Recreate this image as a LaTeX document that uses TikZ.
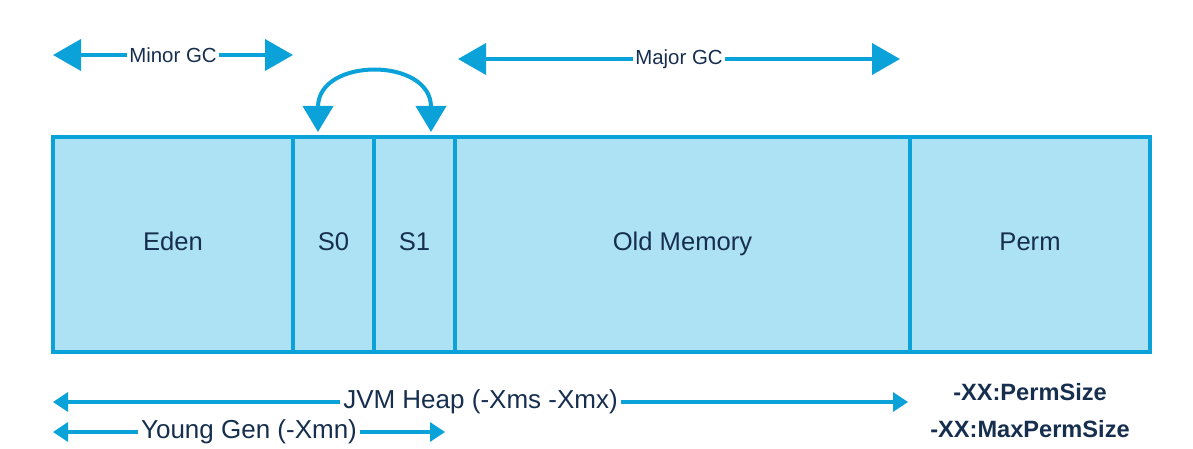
\documentclass[tikz,border=0pt]{standalone}
\usepackage{fontspec}
\setmainfont{Liberation Sans}
\usetikzlibrary{arrows.meta,positioning}
\definecolor{gcblue}{HTML}{0AA2D8}
\definecolor{gcfill}{HTML}{ACE2F3}
\definecolor{gcnavy}{HTML}{172F4E}
\tikzset{
  part/.style={draw=gcblue, fill=gcfill, line width=2pt, rectangle,
    inner sep=0pt, outer sep=0pt, minimum height=107.5pt,
    text height=9pt, text depth=3pt,
    text=gcnavy, font=\fontsize{12.8}{15}\selectfont},
  gcarrow/.style={draw=gcblue, line width=2pt,
    {Triangle[length=14pt,width=15.5pt]}-{Triangle[length=14pt,width=15.5pt]}},
  swaparrow/.style={draw=gcblue, line width=2pt,
    {Triangle[length=13pt,width=15pt]}-{Triangle[length=13pt,width=15pt]}},
  sizearrow/.style={draw=gcblue, line width=1.7pt,
    {Triangle[length=7.5pt,width=9.5pt]}-{Triangle[length=7.5pt,width=9.5pt]}},
  gclabel/.style={fill=white, inner sep=1pt, text=gcnavy,
    font=\fontsize{10.2}{12}\selectfont},
  sizelabel/.style={fill=white, inner sep=1.5pt, text=gcnavy,
    font=\fontsize{13}{15}\selectfont},
  flag/.style={text=gcnavy, font=\bfseries\fontsize{11.8}{14}\selectfont}
}
\begin{document}
\begin{tikzpicture}[x=0.5pt, y=-0.5pt]
  \useasboundingbox (0,0) rectangle (1193,449);
  % Heap compartments
  \node[part, minimum width=120pt] (eden) at (173,244.5) {Eden};
  \node[part, minimum width=40.5pt, right=0pt of eden] (s0) {S0};
  \node[part, minimum width=40.5pt, right=0pt of s0] (s1) {S1};
  \node[part, minimum width=227.5pt, right=0pt of s1] (old) {Old Memory};
  \node[part, minimum width=120pt, right=0pt of old] (perm) {Perm};
  % Minor and major collections
  \coordinate (minorL) at (53,55);
  \coordinate (minorR) at (293,55);
  \draw[gcarrow] (minorL) -- (minorR) node[midway, gclabel] {Minor GC};
  \coordinate (majorL) at (458,59);
  \coordinate (majorR) at (900,59);
  \draw[gcarrow] (majorL) -- (majorR) node[midway, gclabel] {Major GC};
  % Survivor swap
  \coordinate (s0in) at (318,132);
  \coordinate (s1in) at (431,132);
  \draw[swaparrow] (s0in) .. controls (318,57) and (431,57) .. (s1in);
  % Sizes
  \coordinate (heapL) at (53,402);
  \coordinate (heapR) at (908,402);
  \draw[sizearrow] (heapL) -- (heapR)
    node[midway, sizelabel] {JVM Heap (-Xms -Xmx)};
  \coordinate (youngL) at (53,432);
  \coordinate (youngR) at (445,432);
  \draw[sizearrow] (youngL) -- (youngR)
    node[midway, sizelabel] {Young Gen (-Xmn)};
  \node[flag] (permsize) at (1030,392) {-XX:PermSize};
  \node[flag] (maxperm) at (1030,429) {-XX:MaxPermSize};
\end{tikzpicture}
\end{document}
